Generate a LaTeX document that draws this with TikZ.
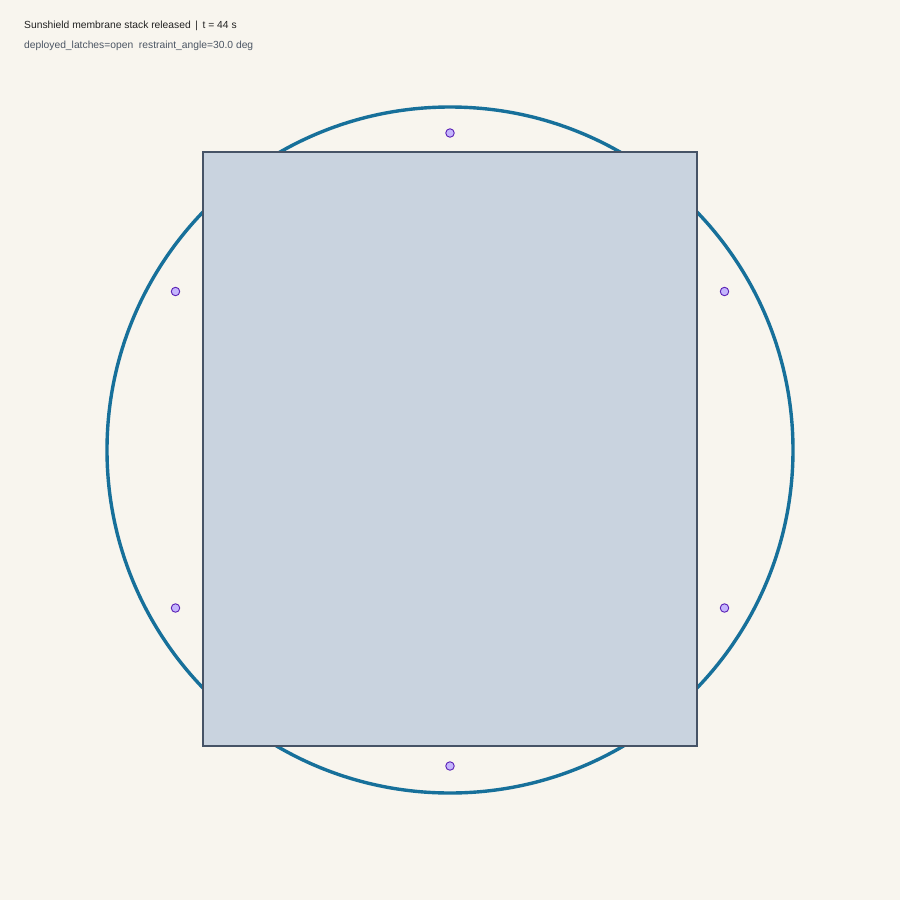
\documentclass[tikz,border=0pt]{standalone}
\usepackage{fontspec}
\setmainfont{Liberation Sans}
\definecolor{bg}{HTML}{F8F5EE}
\definecolor{ring}{HTML}{17709A}
\definecolor{panelfill}{HTML}{C9D3DF}
\definecolor{paneledge}{HTML}{465366}
\definecolor{latchfill}{HTML}{C4B5FD}
\definecolor{latchedge}{HTML}{5B21B6}
\definecolor{titlecol}{HTML}{222222}
\definecolor{subcol}{HTML}{4B5563}
\tikzset{
  ringstyle/.style={draw=ring, line width=3.4pt},
  panelstyle/.style={draw=paneledge, fill=panelfill, line width=2.8pt},
  latch/.style={circle, draw=latchedge, fill=latchfill, line width=0.9pt, minimum size=8.5pt, inner sep=0pt},
  titletext/.style={anchor=base west, inner sep=0pt, font=\fontsize{10.3}{12}\selectfont, text=titlecol},
  subtext/.style={anchor=base west, inner sep=0pt, font=\fontsize{10.3}{12}\selectfont, text=subcol},
}
\begin{document}
\begin{tikzpicture}[x=1pt,y=-1pt]
\fill[bg] (0,0) rectangle (900,900);
\useasboundingbox (0,0) rectangle (900,900);
\draw[ringstyle] (450,450) circle[radius=343];
\node[panelstyle, minimum width=494pt, minimum height=594pt, inner sep=0pt, rectangle] (panel) at (450,449) {};
\node[latch] (l1) at (450,133) {};
\node[latch] (l2) at (175.5,291.5) {};
\node[latch] (l3) at (724.5,291.5) {};
\node[latch] (l4) at (175.5,608) {};
\node[latch] (l5) at (724.5,608) {};
\node[latch] (l6) at (450,766) {};
\node[titletext] (title) at (24,28) {Sunshield membrane stack released \,|\, t = 44 s};
\node[subtext] (sub) at (24,48) {deployed\_latches=open\ \ restraint\_angle=30.0 deg};
\end{tikzpicture}
\end{document}
